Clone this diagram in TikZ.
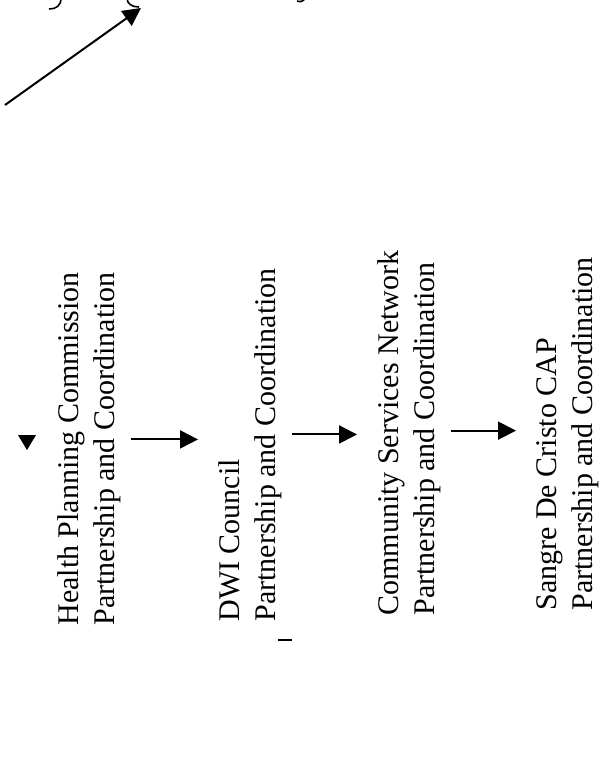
\documentclass[tikz,border=0pt]{standalone}
\usepackage{fontspec}
\setmainfont{Liberation Serif}
\usetikzlibrary{arrows.meta}
\tikzset{
  orgtext/.style={rotate=90,anchor=north west,align=left,inner sep=0pt,
    font=\fontsize{15}{18}\selectfont},
  flow/.style={-{Triangle[length=9pt,width=9pt]},line width=1pt,
    shorten <=5pt,shorten >=10pt}
}
\begin{document}
\begin{tikzpicture}[x=0.5pt,y=-0.5pt]
  \useasboundingbox (0,0) rectangle (613,782);
  % bits of strokes cut off at the top edge
  \draw[line width=0.8pt] (61,-2) .. controls (61,6) and (56,9) .. (49,9);
  \draw[line width=0.8pt] (127,-2) .. controls (127,4) and (132,7) .. (139,7);
  \draw[line width=0.8pt] (297,1) .. controls (301,2) .. (305,-1);
  \coordinate (tailA) at (5,105);
  \coordinate (tipA) at (141,8);
  \draw[flow,shorten <=0pt,shorten >=0pt] (tailA) -- (tipA);
  \fill (18,435) -- (36,435) -- (27,450) -- cycle;
  % the four partners
  \node[orgtext] (hpc) at (57,626) {Health Planning Commission\\Partnership and Coordination};
  \node[orgtext] (dwi) at (218,622) {DWI Council\\Partnership and Coordination};
  \node[orgtext] (csn) at (377,616) {Community Services Network\\Partnership and Coordination};
  \node[orgtext] (sdc) at (536,611) {Sangre De Cristo CAP\\Partnership and Coordination};
  \draw[flow] ([yshift=4.75pt]hpc.south) -- ([yshift=4.75pt]hpc.south -| dwi.north);
  \draw[flow] ([yshift=5.25pt]dwi.south) -- ([yshift=5.25pt]dwi.south -| csn.north);
  \draw[flow] ([yshift=1.25pt]csn.south) -- ([yshift=1.25pt]csn.south -| sdc.north);
  \draw[line width=0.7pt] (278,640) -- (292,640);
\end{tikzpicture}
\end{document}
